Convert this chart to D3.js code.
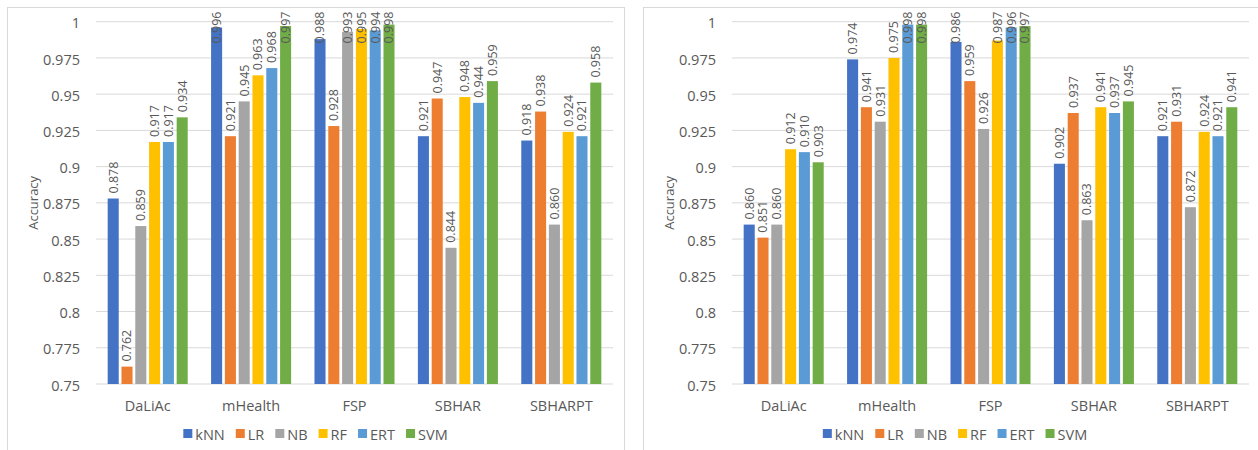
<!DOCTYPE html>
<html>
<head>
<meta charset="utf-8">
<script src="https://cdn.jsdelivr.net/npm/d3@7"></script>
<style>
  body { margin: 0; background: #fff; }
  text { font-family: "Open Sans", "Liberation Sans", sans-serif; fill: #595959; }
</style>
</head>
<body>
<div id="chart"></div>
<script>
// Datasets and classifiers
const categories = ["DaLiAc", "mHealth", "FSP", "SBHAR", "SBHARPT"];
const models = ["kNN", "LR", "NB", "RF", "ERT", "SVM"];
const colors = ["#4472C4", "#ED7D31", "#A5A5A5", "#FFC000", "#5B9BD5", "#70AD47"];
const yTicks = [0.75, 0.775, 0.8, 0.825, 0.85, 0.875, 0.9, 0.925, 0.95, 0.975, 1];
const yTickLabels = ["0.75", "0.775", "0.8", "0.825", "0.85", "0.875", "0.9", "0.925", "0.95", "0.975", "1"];

// Left panel, one row per dataset (kNN, LR, NB, RF, ERT, SVM)
const leftDaLiAc  = [0.878, 0.762, 0.859, 0.917, 0.917, 0.934];
const leftMHealth = [0.996, 0.921, 0.945, 0.963, 0.968, 0.997];
const leftFSP     = [0.988, 0.928, 0.993, 0.995, 0.994, 0.998];
const leftSBHAR   = [0.921, 0.947, 0.844, 0.948, 0.944, 0.959];
const leftSBHARPT = [0.918, 0.938, 0.860, 0.924, 0.921, 0.958];

// Right panel
const rightDaLiAc  = [0.860, 0.851, 0.860, 0.912, 0.910, 0.903];
const rightMHealth = [0.974, 0.941, 0.931, 0.975, 0.998, 0.998];
const rightFSP     = [0.986, 0.959, 0.926, 0.987, 0.996, 0.997];
const rightSBHAR   = [0.902, 0.937, 0.863, 0.941, 0.937, 0.945];
const rightSBHARPT = [0.921, 0.931, 0.872, 0.924, 0.921, 0.941];

const leftRows = [leftDaLiAc, leftMHealth, leftFSP, leftSBHAR, leftSBHARPT];
const rightRows = [rightDaLiAc, rightMHealth, rightFSP, rightSBHAR, rightSBHARPT];

const svg = d3.select("#chart")
  .append("svg")
    .attr("width", 1258)
    .attr("height", 450);

function drawPanel(px, pw, rows) {
  const g = svg.append("g").attr("transform", `translate(${px},0)`);

  // panel frame
  g.append("rect")
    .attr("x", 0.5).attr("y", 7.5)
    .attr("width", pw).attr("height", 470)
    .attr("fill", "none")
    .attr("stroke", "#d9d9d9");

  const plotLeft = 89, plotWidth = 517;
  const plotTop = 21.7, plotBottom = 384;

  const y = d3.scaleLinear().domain([0.75, 1]).range([plotBottom, plotTop]);
  const x0 = d3.scaleBand()
    .domain(categories)
    .range([plotLeft, plotLeft + plotWidth])
    .paddingInner(0.226)
    .paddingOuter(0.113);
  const x1 = d3.scaleBand()
    .domain(models)
    .range([0, x0.bandwidth()])
    .paddingInner(0.2);

  // gridlines
  g.selectAll(".grid")
    .data(yTicks)
    .enter()
    .append("line")
      .attr("x1", plotLeft).attr("x2", plotLeft + plotWidth)
      .attr("y1", d => y(d)).attr("y2", d => y(d))
      .attr("stroke", "#d9d9d9")
      .attr("stroke-width", 1);

  // y axis labels
  g.selectAll(".ytick")
    .data(yTicks)
    .enter()
    .append("text")
      .attr("x", plotLeft - 16)
      .attr("y", d => y(d) + 1.5)
      .attr("dy", "0.35em")
      .attr("text-anchor", "end")
      .style("font-size", "14.5px")
      .text((d, i) => yTickLabels[i]);

  g.append("text")
    .attr("transform", `translate(26,${(plotTop + plotBottom) / 2}) rotate(-90)`)
    .attr("text-anchor", "middle")
    .attr("dy", "0.35em")
    .style("font-size", "13px")
    .text("Accuracy");

  // bars
  const groups = g.selectAll(".cat")
    .data(rows)
    .enter()
    .append("g")
      .attr("transform", (d, i) => `translate(${x0(categories[i])},0)`);

  groups.selectAll("rect")
    .data(d => d.map((v, j) => ({model: models[j], value: v, color: colors[j]})))
    .enter()
    .append("rect")
      .attr("x", d => x1(d.model))
      .attr("y", d => y(d.value))
      .attr("width", x1.bandwidth())
      .attr("height", d => plotBottom - y(d.value))
      .attr("fill", d => d.color);

  // value labels, rotated, kept inside the chart area
  groups.selectAll(".label")
    .data(d => d.map((v, j) => ({model: models[j], value: v})))
    .enter()
    .append("text")
      .attr("class", "label")
      .style("font-size", "12.5px")
      .attr("text-anchor", "start")
      .attr("dy", "0.35em")
      .text(d => d.value.toFixed(3))
      .attr("transform", function(d) {
        const len = this.getComputedTextLength();
        const base = Math.max(y(d.value) - 5, 11.5 + len);
        return `translate(${x1(d.model) + x1.bandwidth() / 2},${base}) rotate(-90)`;
      });

  // category labels
  g.selectAll(".xlab")
    .data(categories)
    .enter()
    .append("text")
      .attr("x", d => x0(d) + x0.bandwidth() / 2)
      .attr("y", 411)
      .attr("text-anchor", "middle")
      .style("font-size", "14.5px")
      .text(d => d);

  // legend, centred in the panel
  const leg = g.append("g");
  let lx = 0;
  models.forEach((m, i) => {
    leg.append("rect")
      .attr("x", lx).attr("y", 429)
      .attr("width", 9).attr("height", 9)
      .attr("fill", colors[i]);
    const t = leg.append("text")
      .attr("x", lx + 12).attr("y", 439.5)
      .style("font-size", "14.5px")
      .text(m);
    lx += 12 + t.node().getComputedTextLength() + 11;
  });
  const legW = lx - 11;
  leg.attr("transform", `translate(${pw / 2 - legW / 2},0)`);
}

drawPanel(7, 617, leftRows);
drawPanel(643, 624, rightRows);
</script>
</body>
</html>
